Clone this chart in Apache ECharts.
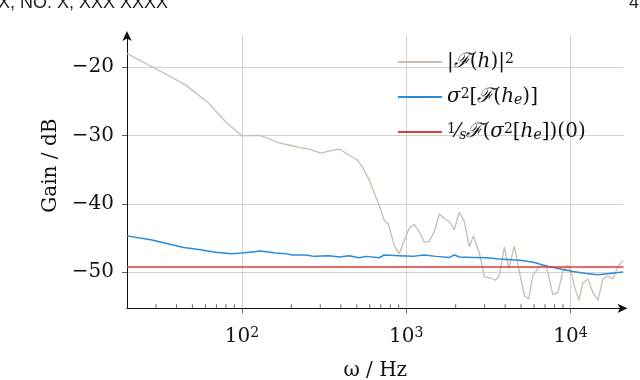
<!DOCTYPE html>
<html><head><meta charset="utf-8">
<script src="https://cdn.jsdelivr.net/npm/echarts@6/dist/echarts.min.js"></script>
<style>html,body{margin:0;padding:0;background:#fff}#c{width:640px;height:380px}</style>
</head><body><div id="c"></div>
<script>
// |F(h)|^2
const freqMag = [20, 28.4, 45.4, 63, 79.6, 100, 127, 139.5, 168, 193.5, 222.6, 256, 302, 339, 381, 400, 449, 505, 541, 595, 654, 701, 734, 780, 845, 907, 996, 1043, 1119, 1200, 1288, 1381, 1482, 1590, 1705, 1829, 1962, 2105, 2258, 2422, 2562, 2787, 2990, 3284, 3489, 3691, 3959, 4206, 4555, 4819, 5243, 5568, 5891, 6471, 7109, 7801, 8368, 8975, 9627, 10099, 10578, 11235, 11885, 12751, 13677, 14675, 15740, 16880, 18110, 19430, 20840];
const gainMag = [-18.0, -19.95, -22.6, -25.3, -28.0, -30.05, -30.0, -30.3, -31.1, -31.4, -31.75, -32.0, -32.6, -32.3, -32.0, -32.1, -32.9, -33.6, -34.6, -36.5, -39.0, -40.9, -42.4, -43.0, -46.1, -47.3, -44.8, -43.6, -43.0, -44.1, -45.6, -45.5, -44.1, -41.5, -42.2, -42.6, -43.8, -41.2, -42.6, -46.3, -44.7, -47.2, -50.7, -50.9, -51.2, -50.5, -46.3, -49.5, -46.2, -49.3, -53.5, -53.9, -50.5, -49.2, -49.0, -53.3, -53.0, -49.9, -49.0, -50.0, -52.2, -54.1, -51.6, -51.0, -53.0, -54.1, -51.0, -50.6, -51.0, -49.2, -48.3];
// sigma^2[F(h_e)]
const freqVar = [20, 28.4, 44.3, 54.7, 69.1, 87.3, 100, 130, 160.6, 184.7, 202.6, 244.6, 274.8, 339, 390.4, 449, 516.8, 568, 684.6, 734, 907, 1092, 1288, 1517, 1829, 1962, 2105, 2537, 3062, 3691, 4349, 5118, 6033, 7109, 8568, 10328, 12467, 14675, 17292, 20840];
const gainVar = [-44.7, -45.3, -46.4, -46.7, -47.1, -47.3, -47.2, -46.9, -47.2, -47.3, -47.5, -47.5, -47.7, -47.6, -47.8, -47.6, -47.9, -47.7, -47.9, -47.5, -47.6, -47.7, -47.5, -47.7, -47.85, -47.5, -47.8, -47.85, -47.9, -48.1, -48.2, -48.3, -48.6, -49.1, -49.5, -49.9, -50.2, -50.4, -50.2, -50.0];
// 1/s F(sigma^2[h_e])(0)
const freqRef = [20, 21000];
const gainRef = [-49.25, -49.25];
// axes
const xRange = [20, 21000];
const yRange = [-55.3, -15.3];
const minorTicks = [30, 40, 50, 60, 70, 80, 90, 200, 300, 400, 500, 600, 700, 800, 900, 2000, 3000, 4000, 5000, 6000, 7000, 8000, 9000];
const seriesNames = ['|ℱ(h)|²', 'σ²[ℱ(hₑ)]', '1/s ℱ(σ²[hₑ])(0)'];
const legendRich = {
  '|ℱ(h)|²': '{n||}{f|ℱ}{n|(}{i|h}{n|)|}{sup|2}',
  'σ²[ℱ(hₑ)]': '{i|σ}{sup|2}{n|[}{f|ℱ}{n|(}{i|h}{sub|e}{n|)]}',
  '1/s ℱ(σ²[hₑ])(0)': '{sup|1}{n|⁄}{sub|s}{f|ℱ}{n|(}{i|σ}{sup|2}{n|[}{i|h}{sub|e}{n|])(0)}'
};

const SERIF = "'DejaVu Serif', 'Liberation Serif', serif";
const zip = (a, b) => a.map((v, i) => [v, b[i]]);
const chart = echarts.init(document.getElementById('c'), null, {renderer: 'canvas'});
const gridColor = '#d2d2d2';
const INK = '#111';

chart.setOption({
  animation: false,
  backgroundColor: '#fff',
  textStyle: {fontFamily: SERIF},
  graphic: [
    {type: 'text', right: 640 - 168, top: -6, style: {text: 'VOL. XX, NO. X, XXX XXXX', font: "18px 'Liberation Sans', Arial, sans-serif", fill: '#222', textAlign: 'right'}},
    {type: 'text', left: 629, top: -6, style: {text: '4', font: "18px 'Liberation Sans', Arial, sans-serif", fill: '#222'}}
  ],
  grid: {left: 127, right: 16.5, top: 35, bottom: 71.7, containLabel: false, outerBoundsMode: 'none'},
  legend: {
    data: seriesNames,
    orient: 'vertical',
    left: 393, top: 47,
    itemWidth: 44, itemHeight: 2, itemGap: 15,
    icon: 'rect',
    textStyle: {
      fontFamily: SERIF, fontSize: 20, color: INK,
      rich: {
        n: {fontFamily: SERIF, fontSize: 20, color: INK},
        i: {fontFamily: SERIF, fontSize: 20, fontStyle: 'italic', color: INK},
        f: {fontFamily: SERIF, fontSize: 20, fontStyle: 'italic', color: INK},
        sup: {fontFamily: SERIF, fontSize: 14, verticalAlign: 'top', color: INK},
        sub: {fontFamily: SERIF, fontSize: 14, fontStyle: 'italic', verticalAlign: 'bottom', color: INK}
      }
    },
    formatter: name => legendRich[name]
  },
  xAxis: {
    type: 'log', logBase: 10, min: xRange[0], max: xRange[1],
    name: 'ω / Hz', nameLocation: 'middle', nameGap: 52,
    nameTextStyle: {fontFamily: SERIF, fontSize: 20, color: INK},
    axisLine: {show: true, lineStyle: {color: INK, width: 1}, symbol: ['none', 'arrow'], symbolSize: [7, 10], symbolOffset: [0, 4]},
    axisTick: {show: true, inside: false, length: 5, lineStyle: {color: '#666'}},
    minorTick: {show: false},
    splitLine: {show: true, showMinLine: false, showMaxLine: false, lineStyle: {color: gridColor, width: 1}},
    axisLabel: {
      showMinLabel: false, showMaxLabel: false, margin: 18,
      formatter: v => {
        const e = Math.log10(v);
        if (Math.abs(e - Math.round(e)) > 1e-6) return '';
        return '{b|10}{s|' + Math.round(e) + '}';
      },
      rich: {
        b: {fontFamily: SERIF, fontSize: 20, color: INK},
        s: {fontFamily: SERIF, fontSize: 14, color: INK, verticalAlign: 'top'}
      }
    }
  },
  yAxis: {
    type: 'value', min: yRange[0], max: yRange[1],
    name: 'Gain / dB', nameLocation: 'middle', nameGap: 64,
    nameTextStyle: {fontFamily: SERIF, fontSize: 20, color: INK, padding: [0, 0, 0, 12]},
    axisLine: {show: true, lineStyle: {color: INK, width: 1}, symbol: ['none', 'arrow'], symbolSize: [7, 10], symbolOffset: [0, 4]},
    axisTick: {show: true, inside: false, length: 5, lineStyle: {color: '#666'}},
    splitLine: {show: true, showMinLine: false, showMaxLine: false, lineStyle: {color: gridColor, width: 1}},
    axisLabel: {
      showMinLabel: false, showMaxLabel: false, margin: 13,
      fontFamily: SERIF, fontSize: 20, color: INK,
      formatter: v => (Math.abs(v % 10) < 1e-6 ? String(v).replace('-', '\u2212') : '')
    }
  },
  series: [
    {name: seriesNames[0], type: 'line', data: zip(freqMag, gainMag), showSymbol: false, symbol: 'none',
     lineStyle: {color: '#c8bdb0', width: 1.3}, itemStyle: {color: '#c8bdb0'}, z: 2},
    {name: seriesNames[1], type: 'line', data: zip(freqVar, gainVar), showSymbol: false, symbol: 'none',
     lineStyle: {color: '#2c8ad8', width: 1.5}, itemStyle: {color: '#2c8ad8'}, z: 3},
    {name: seriesNames[2], type: 'line', data: zip(freqRef, gainRef), showSymbol: false, symbol: 'none',
     lineStyle: {color: '#e53a3a', width: 1.5}, itemStyle: {color: '#e53a3a'}, z: 4},
    {name: 'minor', type: 'custom', silent: true, z: 5,
     data: minorTicks.map(v => [v, yRange[0]]),
     renderItem: (params, api) => {
       const p = api.coord([api.value(0), api.value(1)]);
       return {type: 'line', shape: {x1: p[0], y1: p[1], x2: p[0], y2: p[1] - 4}, style: {stroke: '#666', lineWidth: 1}};
     }}
  ]
});
</script></body></html>
